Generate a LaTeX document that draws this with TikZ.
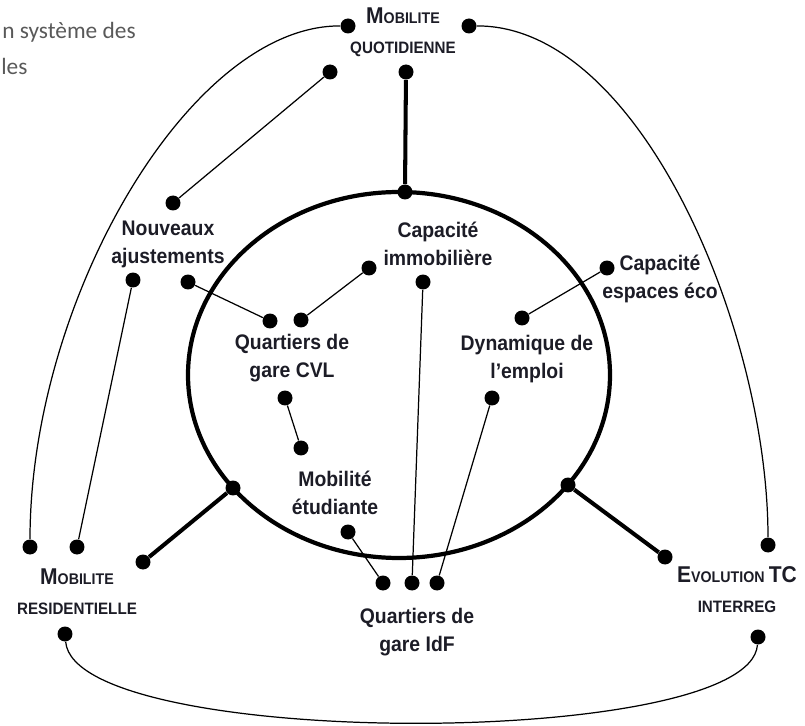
\documentclass[tikz,border=0pt]{standalone}
\usepackage{fontspec}
\setmainfont{Liberation Sans}
\newfontfamily\lblfont{Liberation Sans}[FakeStretch=0.92]
\newfontfamily\slidefont{Carlito}
\usetikzlibrary{shapes,calc}
\definecolor{inkcol}{RGB}{28,28,38}
\definecolor{slidegray}{RGB}{89,89,89}
\newcommand{\capsmall}[2]{{\fontsize{13}{14}\selectfont #1}{\fontsize{8.8}{14}\selectfont #2}}
\newcommand{\capbig}[1]{{\fontsize{13}{14}\selectfont #1}}

\begin{document}
\begin{tikzpicture}[x=0.02cm,y=-0.02cm,
  dot/.style={circle,fill=black,inner sep=0pt,minimum size=0.3cm},
  lbl/.style={text=inkcol,align=center,font=\lblfont\bfseries\fontsize{12}{15.9}\selectfont},
  ttl/.style={text=inkcol,align=center,font=\lblfont\bfseries\fontsize{9.4}{17}\selectfont},
  link/.style={line width=0.7pt},
  spoke/.style={line width=2.3pt},
  ring/.style={line width=2.4pt}]
  \useasboundingbox (0,0) rectangle (805,726);
  %coordinates
  \coordinate (cen) at (399,375);
  \draw[ring] (cen) ellipse [x radius=211, y radius=183];
  % slide title (cut)
  \node[anchor=base east, inner sep=0pt, text=slidegray, font=\slidefont\fontsize{13.3}{16}\selectfont] (slideA) at (136,39) {n système des};
  \node[anchor=base west, inner sep=0pt, text=slidegray, font=\slidefont\fontsize{13.3}{16}\selectfont] (slideB) at (1,75) {les};
  % Nodes
  \node[ttl] (quot) at (403,32) {\capsmall{M}{OBILITE}\\QUOTIDIENNE};
  \node[lbl] (nouv) at (168,244) {Nouveaux\\ajustements};
  \node[lbl] (capi) at (438,244) {Capacité\\immobilière};
  \node[lbl] (cape) at (660,279) {Capacité\\espaces éco};
  \node[lbl] (cvl) at (292,358) {Quartiers de\\gare CVL};
  \node[lbl] (dyn) at (527,359) {Dynamique de\\l’emploi};
  \node[lbl] (etu) at (335,493) {Mobilité\\étudiante};
  \node[lbl] (idf) at (417,632) {Quartiers de\\gare IdF};
  \node[ttl] (resi) at (77,592) {\capsmall{M}{OBILITE}\\RESIDENTIELLE};
  \node[ttl] (evol) at (737,590) {\capsmall{E}{VOLUTION} \capbig{TC}\\INTERREG};
  % dots
  \node[dot] (qL) at (348,26) {};
  \node[dot] (qR) at (469,26) {};
  \node[dot] (qA) at (330,72) {};
  \node[dot] (qB) at (406,72) {};
  \node[dot] (jT) at (405,192) {};
  \node[dot] (jL) at (233,488) {};
  \node[dot] (jR) at (568,485) {};
  \node[dot] (nT) at (173,203) {};
  \node[dot] (nL) at (133,280) {};
  \node[dot] (nR) at (188,282) {};
  \node[dot] (ciL) at (369,268) {};
  \node[dot] (ciB) at (423,282) {};
  \node[dot] (ceD) at (607,268) {};
  \node[dot] (cvL) at (270,321) {};
  \node[dot] (cvR) at (301,320) {};
  \node[dot] (cvB) at (285,398) {};
  \node[dot] (dyT) at (522,318) {};
  \node[dot] (dyB) at (492,398) {};
  \node[dot] (etT) at (301,448) {};
  \node[dot] (etB) at (348,532) {};
  \node[dot] (idA) at (383,583) {};
  \node[dot] (idB) at (412,583) {};
  \node[dot] (idC) at (437,583) {};
  \node[dot] (rA) at (30,547) {};
  \node[dot] (rB) at (77,547) {};
  \node[dot] (rC) at (143,562) {};
  \node[dot] (rD) at (65,634) {};
  \node[dot] (eA) at (768,545) {};
  \node[dot] (eB) at (665,557) {};
  \node[dot] (eC) at (758,637) {};
  % Edges
  \draw[spoke] (qB) -- (jT);
  \draw[spoke] (jL) -- (rC);
  \draw[spoke] (jR) -- (eB);
  \draw[link] (qA) -- (nT);
  \draw[link] (nL) -- (rB);
  \draw[link] (nR) -- (cvL);
  \draw[link] (cvR) -- (ciL);
  \draw[link] (ciB) -- (idB);
  \draw[link] (ceD) -- (dyT);
  \draw[link] (dyB) -- (idC);
  \draw[link] (cvB) -- (etT);
  \draw[link] (etB) -- (idA);
  \draw[link] (qL) .. controls (190,25) and (30,300) .. (rA);
  \draw[link] (qR) .. controls (640,25) and (768,330) .. (eA);
  \draw[link] (rD) .. controls (75,750) and (750,750) .. (eC);
\end{tikzpicture}
\end{document}
